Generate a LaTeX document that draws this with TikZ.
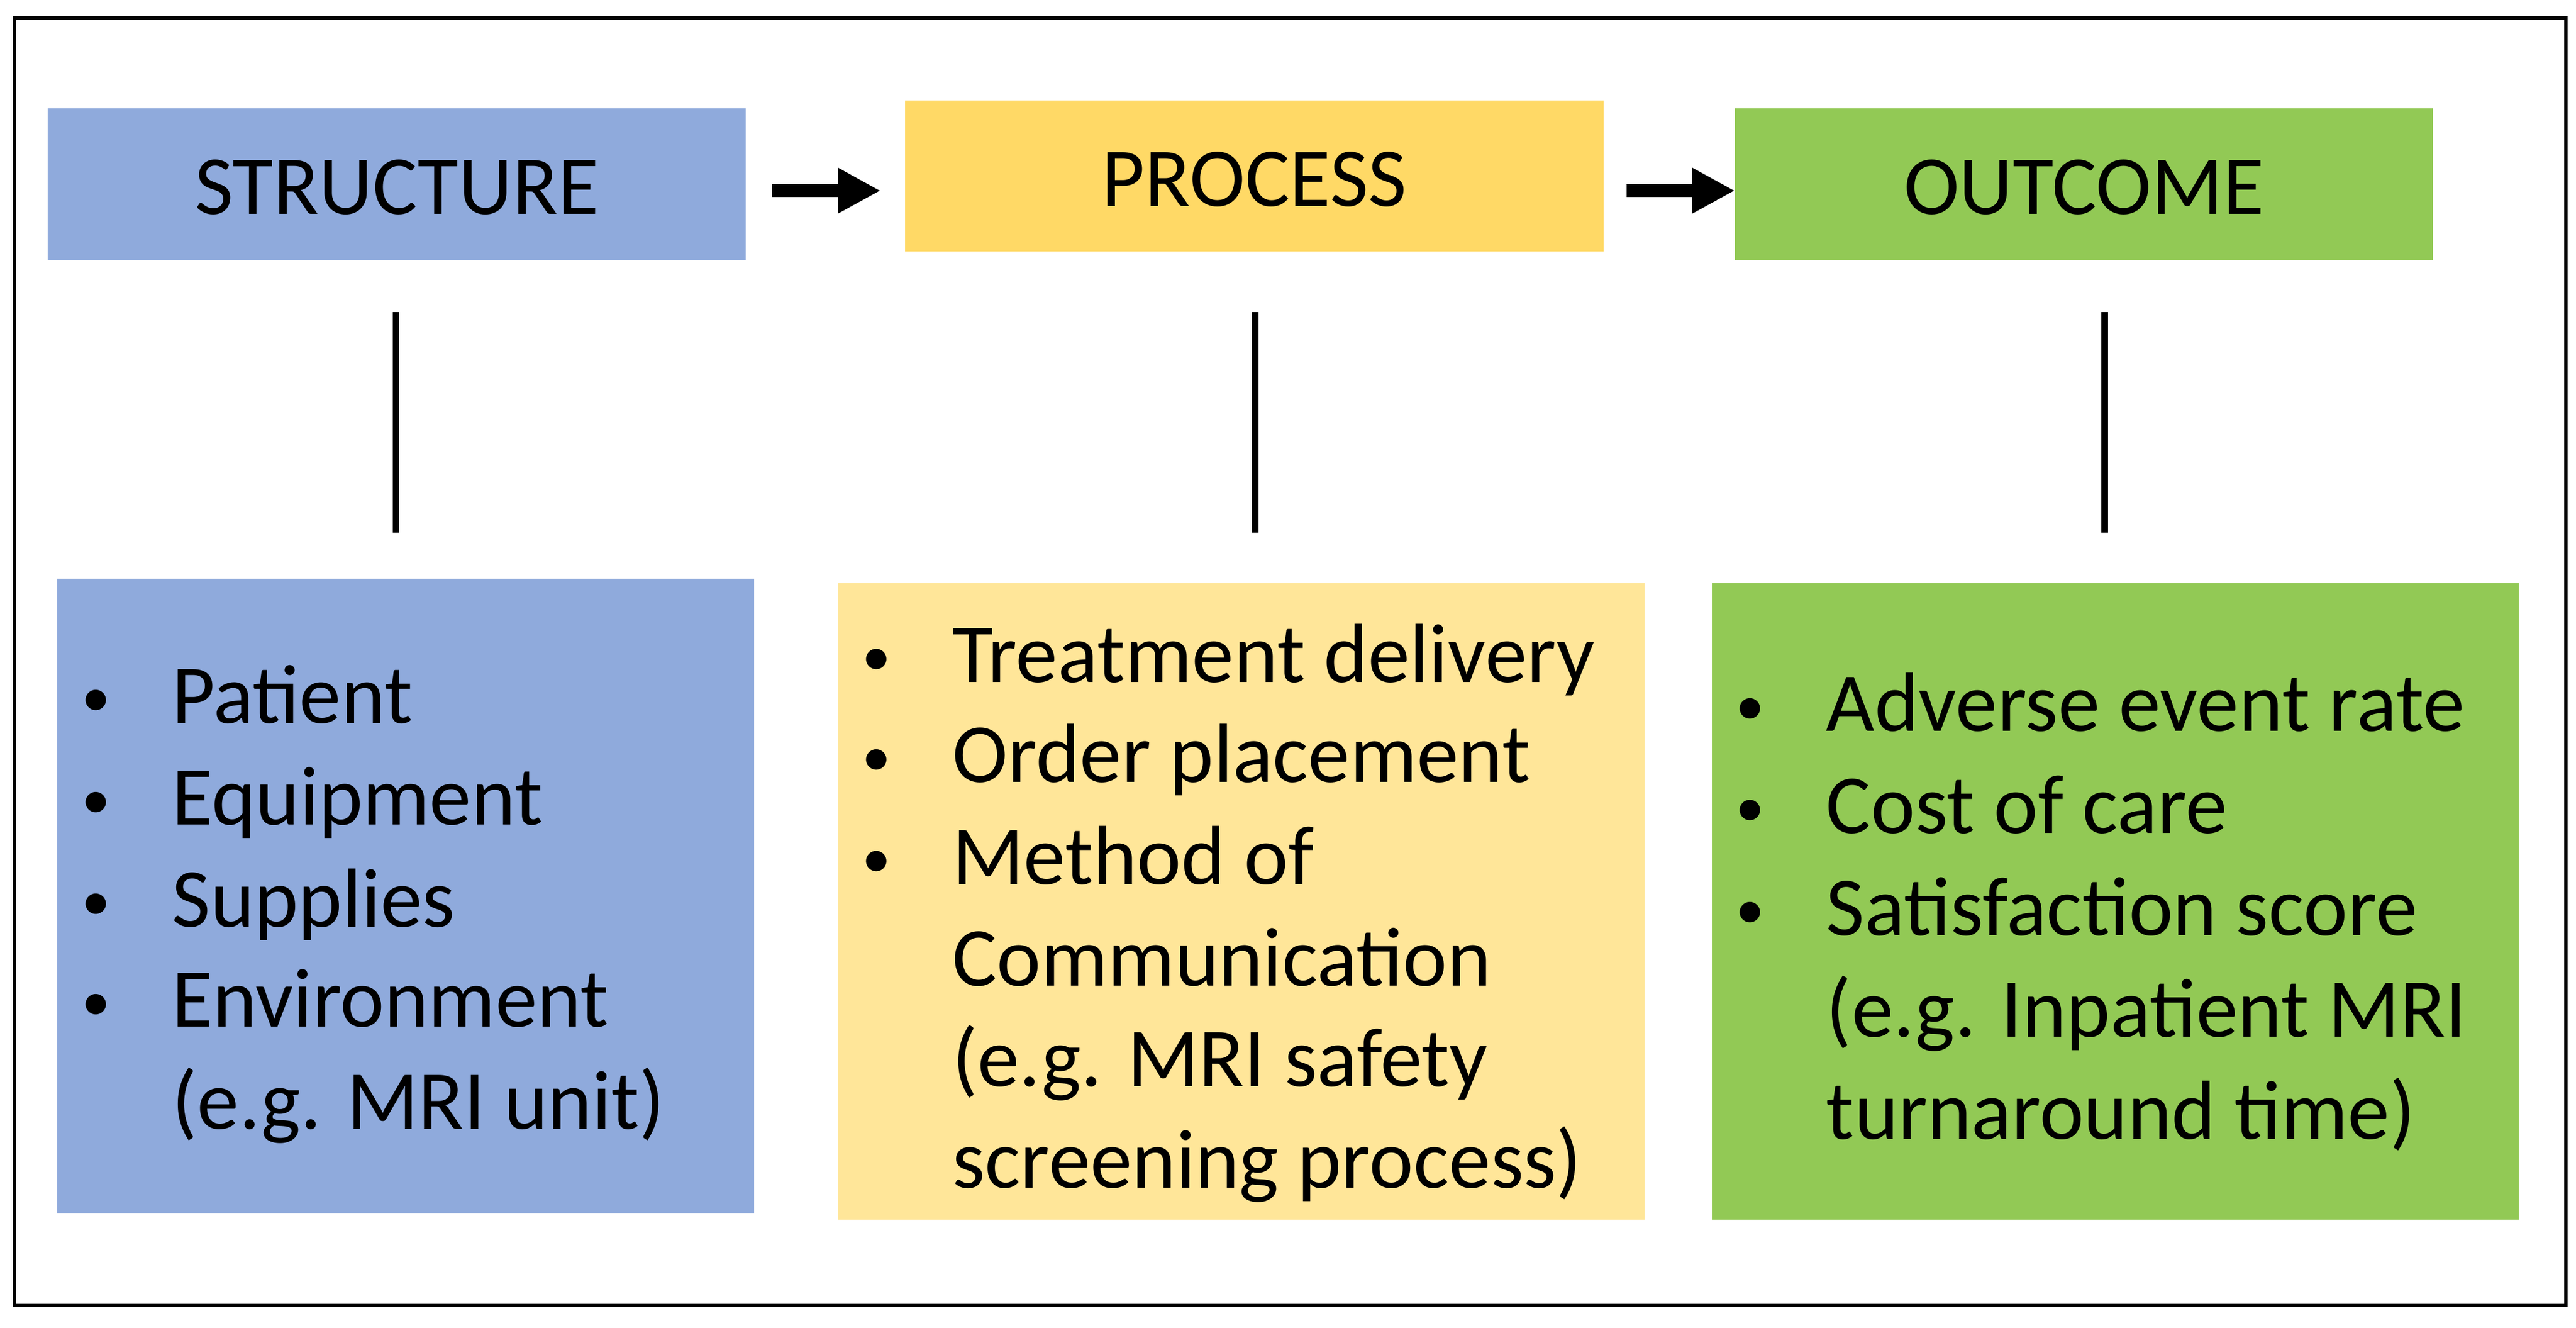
\documentclass[tikz,border=0pt]{standalone}
\usepackage{fontspec}
\setmainfont{Carlito}
\usetikzlibrary{arrows.meta}
\definecolor{cblue}{HTML}{8FAADC}
\definecolor{cgold}{HTML}{FFD966}
\definecolor{clgold}{HTML}{FFE699}
\definecolor{cgreen}{HTML}{92C955}
\begin{document}
\begin{tikzpicture}[x=0.01cm,y=-0.01cm,
  hdr/.style={font=\fontsize{14.5}{17}\selectfont},
  itm/.style={anchor=base west,inner sep=0pt,font=\fontsize{14.5}{17}\selectfont},
  bul/.style={anchor=base west,inner sep=0pt,font=\fontsize{10}{12}\selectfont},
  arr/.style={line width=0.8mm,-{Triangle[length=2.6mm,width=2.6mm]}},
  vline/.style={line width=0.4mm}]
\useasboundingbox (0,0) rectangle (1568,808);
\node[draw,line width=0.2mm,minimum width=15.52cm,minimum height=7.83cm,anchor=north west] (frame) at (8,10) {};
\fill[cblue] (29,66) rectangle (454,158);
\node[hdr] (hs) at (241.5,114) {STRUCTURE};
\fill[cgold] (551,61) rectangle (976,153);
\node[hdr] (hp) at (763.5,109) {PROCESS};
\fill[cgreen] (1056,66) rectangle (1481,158);
\node[hdr] (ho) at (1268.5,114) {OUTCOME};
\coordinate (a1s) at (470,116); \coordinate (a1e) at (536,116);
\coordinate (a2s) at (990,116); \coordinate (a2e) at (1056,116);
\draw[arr] (a1s) -- (a1e);
\draw[arr] (a2s) -- (a2e);
\coordinate (v1a) at (241,190); \coordinate (v1b) at (241,324);
\coordinate (v2a) at (764,190); \coordinate (v2b) at (764,324);
\coordinate (v3a) at (1281,190); \coordinate (v3b) at (1281,324);
\draw[vline] (v1a) -- (v1b);
\draw[vline] (v2a) -- (v2b);
\draw[vline] (v3a) -- (v3b);
\fill[cblue] (35,352) rectangle (459,738);
\fill[clgold] (510,355) rectangle (1001,742);
\fill[cgreen] (1042,355) rectangle (1533,742);
\foreach \t/\y/\b [count=\i] in {{Patient}/440/1,{Equipment}/502/1,{Supplies}/564/1,{Environment}/625/1,{(e.g. MRI unit)}/687/0}{
  \node[itm] (s\i) at (104,\y) {\t};
  \ifnum\b=1 \node[bul] (sb\i) at (49,\y-4) {•};\fi
}
\foreach \t/\y/\b [count=\i] in {{Treatment delivery}/415/1,{Order placement}/476/1,{Method of}/538/1,{Communication}/600/0,{(e.g. MRI safety}/661/0,{screening process)}/723/0}{
  \node[itm] (p\i) at (579,\y) {\t};
  \ifnum\b=1 \node[bul] (pb\i) at (524,\y-4) {•};\fi
}
\foreach \t/\y/\b [count=\i] in {{Adverse event rate}/445/1,{Cost of care}/507/1,{Satisfaction score}/569/1,{(e.g. Inpatient MRI}/631/0,{turnaround time)}/693/0}{
  \node[itm] (o\i) at (1111,\y) {\t};
  \ifnum\b=1 \node[bul] (ob\i) at (1056,\y-4) {•};\fi
}
\end{tikzpicture}
\end{document}
